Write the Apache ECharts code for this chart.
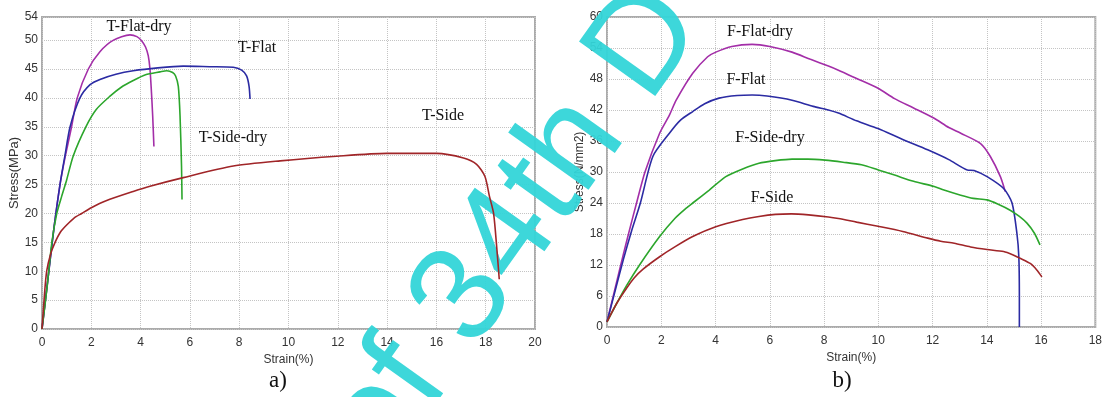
<!DOCTYPE html>
<html>
<head>
<meta charset="utf-8">
<script src="https://cdn.jsdelivr.net/npm/echarts@6/dist/echarts.min.js"></script>
<style>
html,body{margin:0;padding:0;background:#fff;}
#chart{width:1105px;height:397px;}
</style>
</head>
<body>
<div id="chart"></div>
<script>
// ---- Panel a) : tensile curves, Stress (MPa) vs Strain (%) ----
var aXTicks = { min: 0, max: 20, interval: 2 };
var aYTicks = { min: 0, max: 54, interval: 5 };
var tFlatDry = [[0,0],[0.25,9],[0.5,18],[0.73,25],[0.95,30],[1.2,35],[1.43,40],[1.88,45],[2.35,48],[2.9,50],[3.57,50.9],[3.85,50.6],[4.04,49.9],[4.2,48.8],[4.31,47.3],[4.38,45],[4.44,41],[4.49,36.9],[4.54,31.6]];
var tFlat = [[0,0],[0.25,9],[0.5,18],[0.73,25],[0.93,30],[1.14,35],[1.54,40],[1.95,42.3],[2.35,43.2],[3.0,44.1],[3.7,44.7],[4.7,45.2],[5.73,45.5],[6.8,45.4],[7.76,45.3],[8.1,44.8],[8.3,43.8],[8.4,42],[8.44,39.8]];
var tSideDry = [[0,0],[0.2,7],[0.4,15],[0.6,20],[0.8,23],[1.0,25.8],[1.27,30],[1.78,35],[2.2,38],[2.76,40.3],[3.2,41.8],[3.7,43],[4.2,44],[4.79,44.5],[5.06,44.7],[5.3,44.4],[5.42,43.8],[5.53,42],[5.6,36.9],[5.66,28.2],[5.68,22.4]];
var tSide = [[0,0],[0.1,6],[0.19,10],[0.35,13],[0.53,15],[0.75,16.8],[1.0,18],[1.3,19.2],[1.61,20],[2.0,21],[2.6,22.2],[3.7,23.8],[4.38,24.7],[5.73,26.2],[7.76,28.2],[9.66,29.1],[11.95,29.9],[13.98,30.4],[16.0,30.4],[17.1,29.6],[17.63,28.5],[17.97,26.4],[18.15,23],[18.32,20],[18.45,14],[18.55,8.6]];

// ---- Panel b) : flexural curves, Stress (N/mm2) vs Strain (%) ----
var bXTicks = { min: 0, max: 18, interval: 2 };
var bYTicks = { min: 0, max: 60, interval: 6 };
var fFlatDry = [[0,1],[0.3,7.5],[0.6,14],[0.84,19],[1.09,24],[1.4,30],[1.94,37.5],[2.3,41],[2.55,43.9],[3.16,49.1],[3.71,52.3],[4.01,53.2],[4.6,54.3],[5.35,54.7],[6.0,54.3],[6.82,53.2],[7.5,51.8],[8.16,50.5],[8.53,49.7],[9.2,48.1],[9.99,46.2],[10.6,44.2],[11.3,42.4],[12.06,40.4],[12.6,38.6],[13.04,37.5],[13.77,35.5],[14.13,33.0],[14.5,29.1],[14.68,26.2]];
var fFlat = [[0,1],[0.3,7],[0.6,13],[0.9,18.5],[1.23,24],[1.69,33],[2.3,37.5],[2.7,40],[3.16,41.7],[3.6,43.2],[4.13,44.3],[4.8,44.8],[5.35,44.9],[5.9,44.7],[6.82,43.9],[7.6,42.7],[8.16,42.0],[8.53,41.4],[9.2,39.9],[9.99,38.4],[10.9,36.3],[11.82,34.3],[12.6,32.4],[13.28,30.4],[13.53,30.3],[14.01,29.1],[14.62,26.8],[14.93,24],[15.11,18.1],[15.18,13.6],[15.2,6],[15.2,0]];
var fSideDry = [[0,1],[0.35,4.5],[0.72,8],[1.2,12],[1.94,17.5],[2.5,21],[2.92,23],[3.16,24],[3.77,26.5],[4.38,29.1],[5.0,30.6],[5.6,31.7],[6.2,32.2],[6.82,32.5],[7.4,32.5],[8.04,32.3],[8.7,31.9],[9.38,31.4],[10.0,30.4],[10.6,29.4],[11.3,28.2],[12.06,27.2],[12.42,26.5],[13.04,25.5],[13.5,24.9],[14.01,24.6],[14.4,23.8],[14.86,22.6],[15.2,21.4],[15.48,20.1],[15.75,18.2],[15.96,15.9]];
var fSide = [[0,1],[0.35,4.5],[0.72,7.5],[1.0,9.5],[1.33,11.2],[1.94,13.6],[2.5,15.5],[3.16,17.5],[4.01,19.4],[5.0,20.8],[5.6,21.4],[6.21,21.8],[6.8,21.9],[7.43,21.7],[8.16,21.3],[8.53,21.0],[9.2,20.3],[9.99,19.5],[10.9,18.5],[11.82,17.2],[12.3,16.6],[12.8,16.2],[13.4,15.5],[14.01,15.0],[14.62,14.6],[14.95,14.0],[15.23,13.3],[15.6,12.3],[15.85,11.0],[16.03,9.7]];

var seriesNamesA = ['T-Flat-dry','T-Flat','T-Side-dry','T-Side'];
var seriesNamesB = ['F-Flat-dry','F-Flat','F-Side-dry','F-Side'];
var axisNames = { x: 'Strain(%)', yA: 'Stress(MPa)', yB: 'Stress(N/mm2)' };
var captions = ['a)','b)'];
var watermarkText = 'of 34th D';

var COLORS = { purple:'#a32ea8', blue:'#2b2ba3', green:'#2ca62c', red:'#a02528' };
var SANS = 'Liberation Sans, Arial, sans-serif';
var SERIF = 'Liberation Serif, Times New Roman, serif';

function xAxisCfg(idx, t){
  return {
    type:'value', gridIndex: idx, min:t.min, max:t.max, interval:t.interval,
    name: axisNames.x, nameLocation:'middle', nameGap: 23,
    nameTextStyle:{ fontFamily:SANS, fontSize:12, color:'#333' },
    axisLine:{ show:false }, axisTick:{ show:false },
    axisLabel:{ fontFamily:SANS, fontSize:12, color:'#333', margin:8 },
    splitLine:{ show:true, lineStyle:{ color:'#c4c4c4', type:'dotted', width:1 } }
  };
}
function yAxisCfg(idx, t, name, nameSize){
  return {
    type:'value', gridIndex: idx, min:t.min, max:t.max, interval:t.interval,
    name: name, nameLocation:'middle', nameGap: 19,
    nameTextStyle:{ fontFamily:SANS, fontSize:nameSize, color:'#333' },
    axisLine:{ show:false }, axisTick:{ show:false },
    axisLabel:{ fontFamily:SANS, fontSize:12, color:'#333', margin:4 },
    splitLine:{ show:true, lineStyle:{ color:'#c4c4c4', type:'dotted', width:1 } }
  };
}
function lineSeries(name, data, color, idx){
  return {
    name:name, type:'line', xAxisIndex:idx, yAxisIndex:idx, data:data,
    showSymbol:false, smooth:0.25, z:3,
    lineStyle:{ color:color, width:1.6 }, itemStyle:{ color:color },
    emphasis:{ disabled:true }
  };
}
function label(text, x, y, size, font){
  return { type:'text', z:5, style:{ text:text, x:x, y:y, fontFamily:font, fontSize:size, fill:'#111', align:'center', verticalAlign:'middle' } };
}

var chart = echarts.init(document.getElementById('chart'), null, { renderer:'canvas' });
chart.setOption({
  animation:false,
  backgroundColor:'#fff',
  grid:[
    { left:42, right:570, top:17, bottom:68, show:true, borderColor:'#ababab', borderWidth:2, backgroundColor:'transparent' },
    { left:607, right:6, top:17, bottom:70, show:true, borderColor:'#ababab', borderWidth:2, backgroundColor:'transparent' }
  ],
  xAxis:[ xAxisCfg(0, aXTicks), xAxisCfg(1, bXTicks) ],
  yAxis:[ yAxisCfg(0, aYTicks, axisNames.yA, 13), yAxisCfg(1, bYTicks, axisNames.yB, 12) ],
  series:[
    lineSeries(seriesNamesA[0], tFlatDry, COLORS.purple, 0),
    lineSeries(seriesNamesA[1], tFlat, COLORS.blue, 0),
    lineSeries(seriesNamesA[2], tSideDry, COLORS.green, 0),
    lineSeries(seriesNamesA[3], tSide, COLORS.red, 0),
    lineSeries(seriesNamesB[0], fFlatDry, COLORS.purple, 1),
    lineSeries(seriesNamesB[1], fFlat, COLORS.blue, 1),
    lineSeries(seriesNamesB[2], fSideDry, COLORS.green, 1),
    lineSeries(seriesNamesB[3], fSide, COLORS.red, 1)
  ],
  graphic:[
    { type:'text', z:1, x:515, y:228, rotation: 54.5*Math.PI/180,
      style:{ text:watermarkText, fontFamily:SANS, fontSize:136, fill:'#33d5d8', align:'center', verticalAlign:'middle', opacity:0.95 } },
    label(seriesNamesA[0], 139, 27, 16, SERIF),
    label(seriesNamesA[1], 257, 48, 16, SERIF),
    label(seriesNamesA[2], 233, 138, 16, SERIF),
    label(seriesNamesA[3], 443, 116, 16, SERIF),
    label(seriesNamesB[0], 760, 32, 16, SERIF),
    label(seriesNamesB[1], 746, 80, 16, SERIF),
    label(seriesNamesB[2], 770, 138, 16, SERIF),
    label(seriesNamesB[3], 772, 198, 16, SERIF),
    label(captions[0], 278, 381, 23, SERIF),
    label(captions[1], 842, 381, 23, SERIF)
  ]
});
</script>
</body>
</html>
